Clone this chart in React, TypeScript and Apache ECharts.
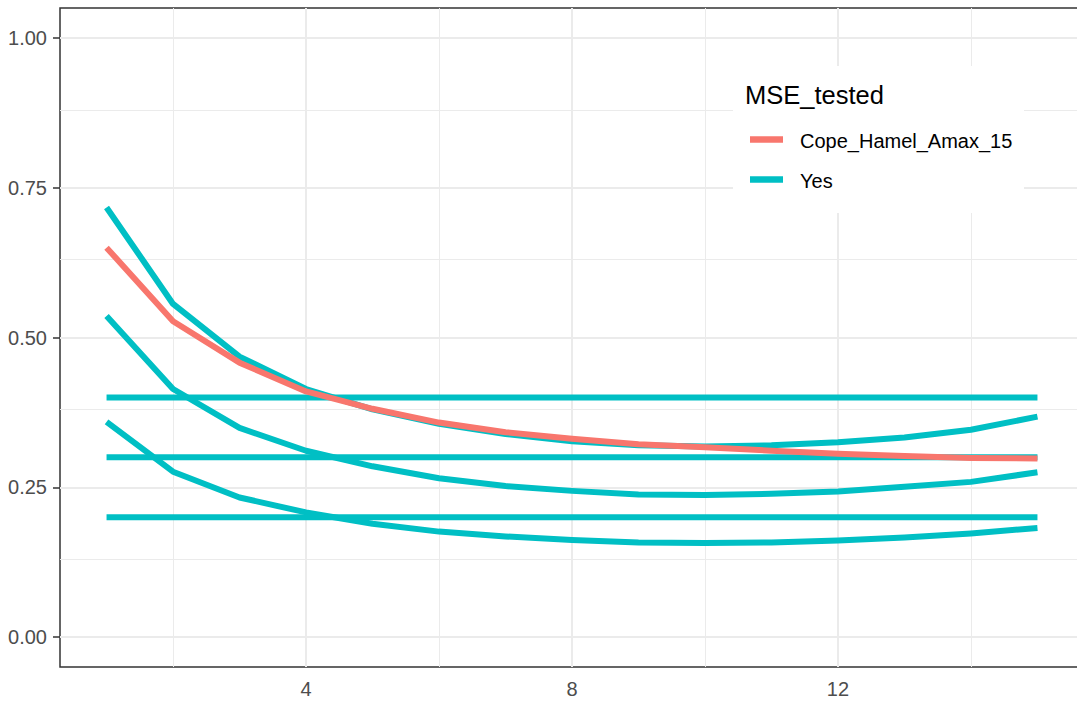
import React, { useEffect, useRef } from "react";
import * as echarts from "echarts";

// ---- data ----
const xValues = [1, 2, 3, 4, 5, 6, 7, 8, 9, 10, 11, 12, 13, 14, 15];

const copeHamelAmax15 = [0.65, 0.527, 0.458, 0.41, 0.381, 0.358, 0.342, 0.331, 0.322, 0.317, 0.311, 0.306, 0.302, 0.299, 0.298];

const yesUpper = [0.717, 0.556, 0.468, 0.414, 0.38, 0.356, 0.339, 0.327, 0.32, 0.318, 0.32, 0.325, 0.333, 0.346, 0.368];
const yesMiddle = [0.536, 0.414, 0.349, 0.311, 0.285, 0.265, 0.252, 0.244, 0.238, 0.237, 0.239, 0.243, 0.251, 0.259, 0.275];
const yesLower = [0.359, 0.276, 0.233, 0.208, 0.189, 0.176, 0.168, 0.162, 0.158, 0.157, 0.158, 0.161, 0.166, 0.173, 0.182];
const yesFlat40 = [0.4, 0.4, 0.4, 0.4, 0.4, 0.4, 0.4, 0.4, 0.4, 0.4, 0.4, 0.4, 0.4, 0.4, 0.4];
const yesFlat30 = [0.3, 0.3, 0.3, 0.3, 0.3, 0.3, 0.3, 0.3, 0.3, 0.3, 0.3, 0.3, 0.3, 0.3, 0.3];
const yesFlat20 = [0.2, 0.2, 0.2, 0.2, 0.2, 0.2, 0.2, 0.2, 0.2, 0.2, 0.2, 0.2, 0.2, 0.2, 0.2];

const xTickValues = [4, 8, 12];
const xMinorGrid = [2, 6, 10, 14];
const yTickValues = [0, 0.25, 0.5, 0.75, 1];
const yMinorGrid = [0.125, 0.375, 0.625, 0.875];

const legendTitle = "MSE_tested";
const legendLabels = ["Cope_Hamel_Amax_15", "Yes"];

const RED = "#F8766D";
const TEAL = "#00BFC4";
const FONT = "'Liberation Sans', Arial, sans-serif";

export default function App() {
  const ref = useRef<HTMLDivElement>(null);

  useEffect(() => {
    document.body.style.overflow = "hidden";
    const chart = echarts.init(ref.current as HTMLDivElement, null, { renderer: "svg" });
    const pair = (ys: number[]) => xValues.map((x, i) => [x, ys[i]]);
    const tealSets = [yesUpper, yesMiddle, yesLower, yesFlat40, yesFlat30, yesFlat20];

    const gridLines: any[] = [
      ...xMinorGrid.map((v) => ({ xAxis: v, lineStyle: { width: 1 } })),
      ...yMinorGrid.map((v) => ({ yAxis: v, lineStyle: { width: 1 } })),
      ...xTickValues.map((v) => ({ xAxis: v, lineStyle: { width: 2 } })),
      ...yTickValues.map((v) => ({ yAxis: v, lineStyle: { width: 2 } })),
    ];

    const option: any = {
      animation: false,
      grid: {
        left: 60,
        top: 8,
        width: 1024,
        bottom: 35,
        show: true,
        backgroundColor: "#fff",
        borderColor: "#333",
        borderWidth: 1.5,
      },
      xAxis: {
        type: "value",
        min: 0.3,
        max: 15.7,
        splitLine: { show: false },
        axisLine: { show: false },
        axisTick: {
          show: true,
          customValues: xTickValues,
          length: 7,
          lineStyle: { color: "#333", width: 1.5 },
        },
        axisLabel: {
          customValues: xTickValues,
          margin: 12,
          color: "#4D4D4D",
          fontSize: 20,
          fontFamily: FONT,
        },
      },
      yAxis: {
        type: "value",
        min: -0.05,
        max: 1.05,
        splitLine: { show: false },
        axisLine: { show: false },
        axisTick: {
          show: true,
          customValues: yTickValues,
          length: 7,
          lineStyle: { color: "#333", width: 1.5 },
        },
        axisLabel: {
          customValues: yTickValues,
          margin: 13,
          color: "#4D4D4D",
          fontSize: 20,
          fontFamily: FONT,
          formatter: (v: number) => v.toFixed(2),
        },
      },
      series: [
        {
          type: "line",
          data: [],
          silent: true,
          z: 1,
          markLine: {
            silent: true,
            symbol: "none",
            z: 1,
            animation: false,
            label: { show: false },
            lineStyle: { color: "#EBEBEB", type: "solid" },
            emphasis: { disabled: true },
            data: gridLines,
          },
        },
        ...tealSets.map((d) => ({
          type: "line",
          name: legendLabels[1],
          data: pair(d),
          symbol: "none",
          showSymbol: false,
          silent: true,
          z: 3,
          lineStyle: { color: TEAL, width: 6, cap: "butt", join: "round" },
          itemStyle: { color: TEAL },
        })),
        {
          type: "line",
          name: legendLabels[0],
          data: pair(copeHamelAmax15),
          symbol: "none",
          showSymbol: false,
          silent: true,
          z: 4,
          lineStyle: { color: RED, width: 6, cap: "butt", join: "round" },
          itemStyle: { color: RED },
        },
      ],
      graphic: [
        {
          type: "rect",
          z: 100,
          shape: { x: 733, y: 66, width: 291, height: 147 },
          style: { fill: "#fff" },
        },
        {
          type: "text",
          z: 101,
          x: 745,
          y: 94.5,
          style: {
            text: legendTitle,
            fontSize: 25.5,
            fontFamily: FONT,
            fill: "#000",
            verticalAlign: "middle",
            align: "left",
          },
        },
        {
          type: "line",
          z: 101,
          shape: { x1: 750, y1: 139.5, x2: 783, y2: 139.5 },
          style: { stroke: RED, lineWidth: 6.5 },
        },
        {
          type: "line",
          z: 101,
          shape: { x1: 750, y1: 179.5, x2: 783, y2: 179.5 },
          style: { stroke: TEAL, lineWidth: 6.5 },
        },
        {
          type: "text",
          z: 101,
          x: 800,
          y: 140.5,
          style: {
            text: legendLabels[0],
            fontSize: 20,
            fontFamily: FONT,
            fill: "#000",
            verticalAlign: "middle",
            align: "left",
          },
        },
        {
          type: "text",
          z: 101,
          x: 800,
          y: 181,
          style: {
            text: legendLabels[1],
            fontSize: 20,
            fontFamily: FONT,
            fill: "#000",
            verticalAlign: "middle",
            align: "left",
          },
        },
      ],
    };

    chart.setOption(option);
    return () => {
      chart.dispose();
    };
  }, []);

  return (
    <div
      ref={ref}
      style={{ position: "fixed", left: 0, top: 0, width: 1100, height: 702, background: "#fff" }}
    />
  );
}
